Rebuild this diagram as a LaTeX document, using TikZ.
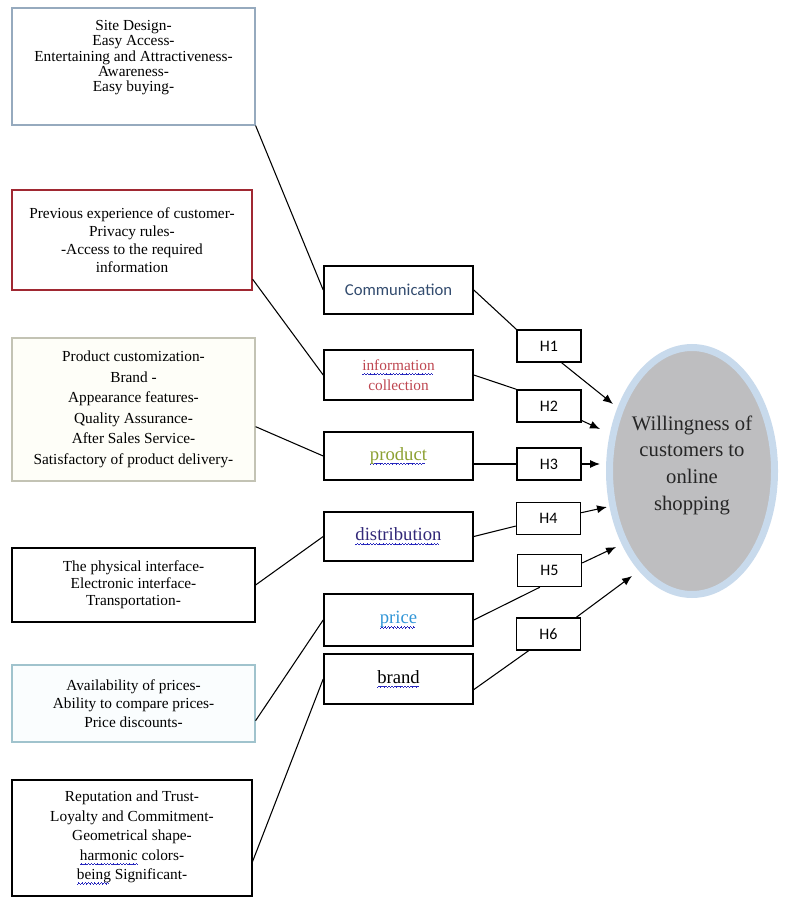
\documentclass[tikz,border=0pt]{standalone}
\usepackage{fontspec}
\setmainfont{Liberation Serif}
\newfontfamily\calibri{Carlito}
\usetikzlibrary{arrows.meta,shapes.geometric}

\definecolor{lineA}{RGB}{150,170,190}
\definecolor{lineB}{RGB}{160,40,50}
\definecolor{lineC}{RGB}{195,195,180}
\definecolor{fillC}{RGB}{254,254,248}
\definecolor{lineE}{RGB}{160,195,205}
\definecolor{fillE}{RGB}{250,253,254}
\definecolor{commcol}{RGB}{50,75,110}
\definecolor{infocol}{RGB}{190,70,80}
\definecolor{prodcol}{RGB}{140,160,50}
\definecolor{distcol}{RGB}{50,40,120}
\definecolor{pricecol}{RGB}{50,150,215}
\definecolor{wavecol}{RGB}{40,40,190}
\definecolor{ellfill}{RGB}{190,190,192}
\definecolor{ringcol}{RGB}{200,218,236}

% spell-check style squiggle under a word
\newsavebox\wavebox
\newcommand\wavy[1]{\sbox\wavebox{#1}\rlap{\color{wavecol}\hbox to \wd\wavebox{\leaders\hbox{\rule[-3.6pt]{0.6pt}{0.7pt}\rule[-3.1pt]{0.6pt}{0.7pt}\rule[-2.6pt]{0.6pt}{0.7pt}\rule[-3.1pt]{0.6pt}{0.7pt}}\hfill}}\usebox\wavebox}

\begin{document}
\begin{tikzpicture}[x=0.75pt,y=-0.75pt,line width=0.8pt,
  box/.style={draw,rectangle,align=center,inner sep=0pt,line width=0.9pt,font=\fontsize{11.5}{14}\selectfont},
  mid/.style={draw,rectangle,align=center,inner sep=0pt,line width=1.2pt,minimum width=111.75pt,font=\fontsize{14}{16}\selectfont},
  hyp/.style={draw,rectangle,inner sep=0pt,line width=1.1pt,minimum width=48pt,minimum height=24pt,font=\calibri\fontsize{12}{14}\selectfont},
  >={Latex[length=7.5pt,width=6pt]}]
\useasboundingbox (0,0) rectangle (788,898);
% factor boxes
\node[box,draw=lineA,minimum width=182.25pt,minimum height=87.75pt,font=\fontsize{11.5}{11.5}\selectfont] (a) at (133.5,66.5) {Site Design-\\Easy Access-\\Entertaining and Attractiveness-\\Awareness-\\Easy buying-\\[4pt]~};
\node[box,draw=lineB,minimum width=180pt,minimum height=75pt,font=\fontsize{11.5}{13.5}\selectfont] (b) at (132,240) {Previous experience of customer-\\Privacy rules-\\-Access to the required\\information};
\node[box,draw=lineC,fill=fillC,minimum width=182.25pt,minimum height=107.25pt,font=\fontsize{11.5}{15.4}\selectfont] (c) at (133.5,409.5) {Product customization-\\Brand -\\Appearance features-\\Quality Assurance-\\After Sales Service-\\Satisfactory of product delivery-};
\node[box,minimum width=182.25pt,minimum height=55.5pt,font=\fontsize{11.5}{12.8}\selectfont] (d) at (133.5,585) {The physical interface-\\Electronic interface-\\Transportation-};
\node[box,draw=lineE,fill=fillE,minimum width=182.25pt,minimum height=57.75pt] (e) at (133.5,703.5) {Availability of prices-\\Ability to compare prices-\\Price discounts-};
\node[box,minimum width=180pt,minimum height=87pt,font=\fontsize{11.5}{14.6}\selectfont] (f) at (132,838) {Reputation and Trust-\\Loyalty and Commitment-\\Geometrical shape-\\\wavy{harmonic} colors-\\\wavy{being} Significant-};
% mix elements
\node[mid,minimum height=36pt,font=\calibri\fontsize{12.5}{14}\selectfont,text=commcol] (m1) at (398.5,290) {Communication};
\node[mid,minimum height=37.5pt,font=\fontsize{11.5}{15}\selectfont,text=infocol] (m2) at (398.5,375) {\wavy{information}\\collection};
\node[mid,minimum height=36pt,text=prodcol] (m3) at (398.5,456) {\wavy{product}};
\node[mid,minimum height=36.75pt,text=distcol] (m4) at (398.5,536.5) {\wavy{distribution}};
\node[mid,minimum height=39pt,text=pricecol] (m5) at (398.5,620) {\wavy{price}};
\node[mid,minimum height=37.5pt] (m6) at (398.5,679) {\wavy{brand}};
% hypotheses
\node[hyp] (h1) at (549,346) {H1};
\node[hyp] (h2) at (549,406) {H2};
\node[hyp] (h3) at (549,464) {H3};
\node[hyp] (h4) at (548.5,518.5) {H4};
\node[hyp] (h5) at (549.5,570.5) {H5};
\node[hyp] (h6) at (548.5,634) {H6};
\node[ellipse,draw=ringcol,line width=5.25pt,fill=ellfill,minimum width=123.75pt,minimum height=185.25pt,inner sep=0pt,inner xsep=-4pt,align=center,font=\fontsize{15.5}{20}\selectfont,text=black!85] (w) at (692,471) {Willingness of\\customers to\\online\\shopping\\[-8pt]~};
\coordinate (t1) at (613,404);
\coordinate (t2) at (600,429);
\coordinate (t3) at (600,464);
\coordinate (t4) at (607,507);
\coordinate (t5) at (616,547);
\coordinate (t6) at (632,576);
\draw (a.south east) -- (m1.west);
\draw (b.-18) -- (m2.west);
\draw (c.-8) -- (m3.west);
\draw (d.east) -- (m4.west);
\draw (e.-8) -- (m5.west);
\draw (f.-11) -- (m6.west);
\draw (m1.east) -- (h1.north west);
\draw (m2.east) -- (h2.north west);
\draw (m3.east |- h3) -- (h3.west);
\draw (m4.east) -- (h4.193);
\draw (m5.east) -- (h5.240);
\draw (m6.-8) -- (h6.220);
\draw[->] (h1.-53) -- (t1);
\draw[->] (h2.-24) -- (t2);
\draw[->] (h3.east) -- (t3);
\draw[->] (h4.10) -- (t4);
\draw[->] (h5.13) -- (t5);
\draw[->] (h6.31) -- (t6);
\end{tikzpicture}
\end{document}
